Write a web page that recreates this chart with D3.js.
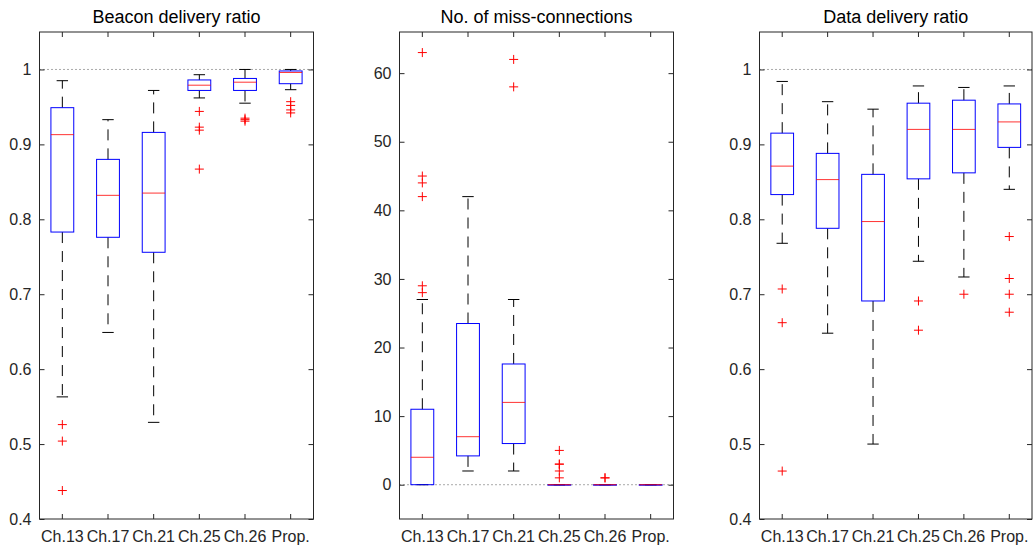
<!DOCTYPE html>
<html>
<head>
<meta charset="utf-8">
<script src="https://cdn.jsdelivr.net/npm/d3@7"></script>
<style>
  body { margin: 0; background: #fff; }
  svg { display: block; font-family: "Liberation Sans", Arial, sans-serif; }
  .tick text { fill: #262626; font-size: 16px; }
  .tick line { stroke: #262626; }
</style>
</head>
<body>
<div id="chart"></div>
<script>
const categories = ['Ch.13', 'Ch.17', 'Ch.21', 'Ch.25', 'Ch.26', 'Prop.']

// five-number summaries: [lower whisker, q1, median, q3, upper whisker]
const beaconStats = [
  [0.563, 0.783, 0.913, 0.949, 0.985],
  [0.649, 0.776, 0.832, 0.880, 0.933],
  [0.529, 0.756, 0.835, 0.916, 0.972],
  [0.962, 0.972, 0.979, 0.986, 0.993],
  [0.955, 0.972, 0.983, 0.988, 1.000],
  [0.973, 0.981, 0.996, 0.998, 1.000]
]
const beaconOutliers = [
  [0.526, 0.504, 0.438],
  [],
  [],
  [0.944, 0.923, 0.919, 0.867],
  [0.935, 0.933, 0.931],
  [0.957, 0.952, 0.946, 0.942]
]

const missStats = [
  [0, 0, 4, 11, 27],
  [2, 4.2, 7, 23.5, 42],
  [2, 6, 12, 17.6, 27],
  [0, 0, 0, 0, 0],
  [0, 0, 0, 0, 0],
  [0, 0, 0, 0, 0]
]
const missOutliers = [
  [28, 29, 42, 44, 45, 63],
  [],
  [58, 62],
  [1, 2, 3, 3, 5],
  [1, 1],
  []
]

const dataStats = [
  [0.768, 0.833, 0.871, 0.915, 0.984],
  [0.648, 0.788, 0.853, 0.888, 0.957],
  [0.500, 0.691, 0.797, 0.860, 0.947],
  [0.744, 0.854, 0.920, 0.955, 0.978],
  [0.723, 0.862, 0.920, 0.959, 0.976],
  [0.840, 0.896, 0.930, 0.954, 0.978]
]
const dataOutliers = [
  [0.707, 0.662, 0.464],
  [],
  [],
  [0.691, 0.652],
  [0.700],
  [0.777, 0.721, 0.700, 0.676]
]

const ratioTicks = [0.4, 0.5, 0.6, 0.7, 0.8, 0.9, 1]
const missTicks = [0, 10, 20, 30, 40, 50, 60]

const plotTop = 32
const plotBottom = 519

const panels = [
  { title: 'Beacon delivery ratio', left: 39.5, right: 313.5, domain: [0.4, 1.05], ticks: ratioTicks, ref: 1, stats: beaconStats, outliers: beaconOutliers },
  { title: 'No. of miss-connections', left: 399.5, right: 673.5, domain: [-5, 66], ticks: missTicks, ref: 0, stats: missStats, outliers: missOutliers },
  { title: 'Data delivery ratio', left: 759.5, right: 1032, domain: [0.4, 1.05], ticks: ratioTicks, ref: 1, stats: dataStats, outliers: dataOutliers }
]

const svg = d3.select('#chart')
  .append('svg')
  .attr('width', 1033)
  .attr('height', 552)

panels.forEach(p => drawPanel(p))

function drawPanel (p) {
  const x = d3.scaleBand(categories, [p.left, p.right])
  const y = d3.scaleLinear(p.domain, [plotBottom, plotTop])
  const bw = x.bandwidth()
  const cx = c => x(c) + bw / 2
  const g = svg.append('g')

  // reference line
  g.append('line')
    .attr('x1', p.left).attr('x2', p.right)
    .attr('y1', y(p.ref)).attr('y2', y(p.ref))
    .attr('stroke', '#555')
    .attr('stroke-dasharray', '1,3')

  const boxes = g.selectAll('g.box')
    .data(categories.map((c, i) => ({ c, s: p.stats[i], o: p.outliers[i] })))
    .join('g')
    .classed('box', true)

  // whiskers
  boxes.append('line')
    .attr('x1', d => cx(d.c)).attr('x2', d => cx(d.c))
    .attr('y1', d => y(d.s[3])).attr('y2', d => y(d.s[4]))
    .attr('stroke', '#000').attr('stroke-dasharray', '11,8')
  boxes.append('line')
    .attr('x1', d => cx(d.c)).attr('x2', d => cx(d.c))
    .attr('y1', d => y(d.s[1])).attr('y2', d => y(d.s[0]))
    .attr('stroke', '#000').attr('stroke-dasharray', '11,8')

  // caps
  boxes.selectAll('line.cap')
    .data(d => [d.s[0], d.s[4]].map(v => ({ c: d.c, v })))
    .join('line')
    .classed('cap', true)
    .attr('x1', d => cx(d.c) - bw * 0.125).attr('x2', d => cx(d.c) + bw * 0.125)
    .attr('y1', d => y(d.v)).attr('y2', d => y(d.v))
    .attr('stroke', '#000')

  boxes.append('rect')
    .attr('x', d => cx(d.c) - bw * 0.25)
    .attr('width', bw * 0.5)
    .attr('y', d => y(d.s[3]))
    .attr('height', d => Math.max(y(d.s[1]) - y(d.s[3]), 0.5))
    .attr('fill', 'none')
    .attr('stroke', '#0000ff')

  boxes.append('line')
    .attr('x1', d => cx(d.c) - bw * 0.25).attr('x2', d => cx(d.c) + bw * 0.25)
    .attr('y1', d => y(d.s[2])).attr('y2', d => y(d.s[2]))
    .attr('stroke', '#ff0000')
    .attr('stroke-opacity', 0.8)

  // outliers as + markers
  boxes.selectAll('path.out')
    .data(d => d.o.map(v => ({ c: d.c, v })))
    .join('path')
    .classed('out', true)
    .attr('d', d => {
      const px = cx(d.c), py = y(d.v), r = 4.5
      return `M${px - r},${py}H${px + r}M${px},${py - r}V${py + r}`
    })
    .attr('stroke', '#ff0000')
    .attr('fill', 'none')

  // axes with inward ticks
  g.append('g')
    .attr('transform', `translate(${p.left},0)`)
    .call(d3.axisLeft(y).tickValues(p.ticks).tickSize(-5).tickSizeOuter(0).tickPadding(8).tickFormat(d3.format('')))
  g.append('g')
    .attr('transform', `translate(${p.right},0)`)
    .call(d3.axisRight(y).tickValues(p.ticks).tickSize(-5).tickSizeOuter(0).tickFormat(''))
  g.append('g')
    .attr('transform', `translate(0,${plotBottom})`)
    .call(d3.axisBottom(x).tickSize(-5).tickSizeOuter(0).tickPadding(12))
  g.append('g')
    .attr('transform', `translate(0,${plotTop})`)
    .call(d3.axisTop(x).tickSize(-5).tickSizeOuter(0).tickFormat(''))
  g.selectAll('.domain').remove()

  g.append('rect')
    .attr('x', p.left).attr('y', plotTop)
    .attr('width', p.right - p.left).attr('height', plotBottom - plotTop)
    .attr('fill', 'none')
    .attr('stroke', '#262626')

  g.append('text')
    .attr('x', (p.left + p.right) / 2)
    .attr('y', 23)
    .attr('text-anchor', 'middle')
    .attr('font-size', 18)
    .attr('fill', '#000')
    .text(p.title)
}
</script>
</body>
</html>
